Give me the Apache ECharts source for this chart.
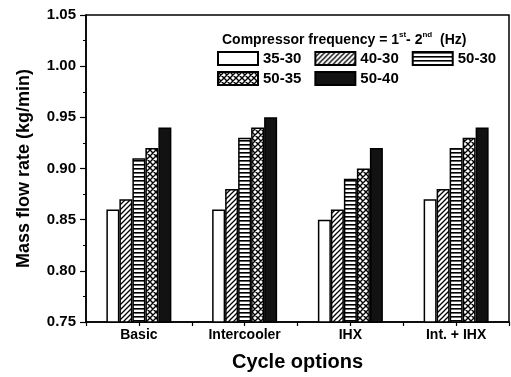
<!DOCTYPE html>
<html><head><meta charset="utf-8">
<script src="https://cdn.jsdelivr.net/npm/echarts@6/dist/echarts.min.js"></script>
<style>html,body{margin:0;padding:0;background:#fff}#c{width:511px;height:377px}</style>
</head><body><div id="c"></div>
<script>
const categories = ['Basic', 'Intercooler', 'IHX', 'Int. + IHX'];
const seriesNames = ['35-30', '40-30', '50-30', '50-35', '50-40'];
const s3530 = [0.86, 0.86, 0.85, 0.87];
const s4030 = [0.87, 0.88, 0.86, 0.88];
const s5030 = [0.91, 0.93, 0.89, 0.92];
const s5035 = [0.92, 0.94, 0.90, 0.93];
const s5040 = [0.94, 0.95, 0.92, 0.94];
const seriesValues = [s3530, s4030, s5030, s5035, s5040];
const yMin = 0.75, yMax = 1.05, yStep = 0.05;

function pattern(kind) {
  const c = document.createElement('canvas');
  const ctx = c.getContext('2d');
  if (kind === 'white') { return '#ffffff'; }
  if (kind === 'black') { return '#121212'; }
  if (kind === 'hatch') {
    c.width = 5; c.height = 5;
    ctx.fillStyle = '#fff'; ctx.fillRect(0, 0, 5, 5);
    ctx.strokeStyle = '#000'; ctx.lineWidth = 1.3;
    ctx.beginPath();
    ctx.moveTo(-1, 6); ctx.lineTo(6, -1);
    ctx.moveTo(-1, 1); ctx.lineTo(1, -1);
    ctx.moveTo(4, 6); ctx.lineTo(6, 4);
    ctx.stroke();
  } else if (kind === 'horiz') {
    c.width = 4; c.height = 4;
    ctx.fillStyle = '#fff'; ctx.fillRect(0, 0, 4, 4);
    ctx.fillStyle = '#000'; ctx.fillRect(0, 0, 4, 1.6);
  } else if (kind === 'cross') {
    c.width = 6; c.height = 6;
    ctx.fillStyle = '#fff'; ctx.fillRect(0, 0, 6, 6);
    ctx.strokeStyle = '#000'; ctx.lineWidth = 1.4;
    ctx.beginPath();
    ctx.moveTo(-1, 7); ctx.lineTo(7, -1);
    ctx.moveTo(-1, -1); ctx.lineTo(7, 7);
    ctx.moveTo(-1, 1); ctx.lineTo(1, -1);
    ctx.moveTo(5, 7); ctx.lineTo(7, 5);
    ctx.moveTo(5, -1); ctx.lineTo(7, 1);
    ctx.moveTo(-1, 5); ctx.lineTo(1, 7);
    ctx.stroke();
  }
  return { image: c, repeat: 'repeat' };
}
const fills = [pattern('white'), pattern('hatch'), pattern('horiz'), pattern('cross'), pattern('black')];

const FONT = 'Liberation Sans, Arial, sans-serif';
const legendCommon = { padding: 0, itemWidth: 40, itemHeight: 13, itemGap: 13, icon: 'rect',
  textStyle: { fontFamily: FONT, fontWeight: 'bold', fontSize: 15, color: '#000' } };
const chart = echarts.init(document.getElementById('c'), null, { renderer: 'canvas' });
chart.setOption({
  animation: false,
  backgroundColor: '#fff',
  title: {
    left: 222, top: 31, padding: 0,
    text: '{a|Compressor frequency = 1}{s|st}{a|- 2}{s|nd}{a|  (Hz)}',
    textStyle: {
      rich: {
        a: { fontFamily: FONT, fontWeight: 'bold', fontSize: 14, color: '#000', lineHeight: 16, verticalAlign: 'bottom' },
        s: { fontFamily: FONT, fontWeight: 'bold', fontSize: 8, color: '#000', lineHeight: 16, verticalAlign: 'top', padding: [0, 0, 6, 0] }
      }
    }
  },
  legend: [
    Object.assign({ data: seriesNames.slice(0, 3), left: 217, top: 51 }, legendCommon),
    Object.assign({ data: seriesNames.slice(3), left: 217, top: 71 }, legendCommon)
  ],
  grid: { left: 86, top: 15, right: 2, bottom: 52, show: true, borderColor: '#000', borderWidth: 1.5, backgroundColor: 'transparent' },
  xAxis: [{
    type: 'category', data: categories,
    name: 'Cycle options', nameLocation: 'middle', nameGap: 30,
    nameTextStyle: { fontFamily: FONT, fontWeight: 'bold', fontSize: 20, color: '#000' },
    axisLine: { lineStyle: { color: '#000', width: 1.5 } },
    axisTick: { show: false },
    axisLabel: { fontFamily: FONT, fontWeight: 'bold', fontSize: 14, color: '#000', margin: 6 },
    splitLine: { show: false }
  }, {
    type: 'value', min: 0, max: categories.length, interval: 0.5, position: 'bottom',
    axisLine: { show: false }, axisLabel: { show: false }, splitLine: { show: false },
    axisTick: { show: true, length: 4, lineStyle: { color: '#000', width: 1.2 } }
  }],
  yAxis: {
    type: 'value', min: yMin, max: yMax, interval: yStep,
    name: 'Mass flow rate (kg/min)', nameLocation: 'middle', nameGap: 53,
    nameTextStyle: { fontFamily: FONT, fontWeight: 'bold', fontSize: 18, color: '#000' },
    axisLine: { show: true, lineStyle: { color: '#000', width: 1.5 } },
    axisTick: { show: true, length: 6, lineStyle: { color: '#000', width: 1.2 } },
    minorTick: { show: true, splitNumber: 2, length: 3, lineStyle: { color: '#000', width: 1 } },
    axisLabel: { fontFamily: FONT, fontWeight: 'bold', fontSize: 15, color: '#000', margin: 10,
      formatter: v => v.toFixed(2) },
    splitLine: { show: false }
  },
  series: seriesNames.map((n, i) => ({
    name: n, type: 'bar', data: seriesValues[i], barWidth: 13, barGap: '0%', xAxisIndex: 0,
    itemStyle: { color: fills[i], borderColor: '#000', borderWidth: 1.5 }
  }))
});
</script></body></html>
